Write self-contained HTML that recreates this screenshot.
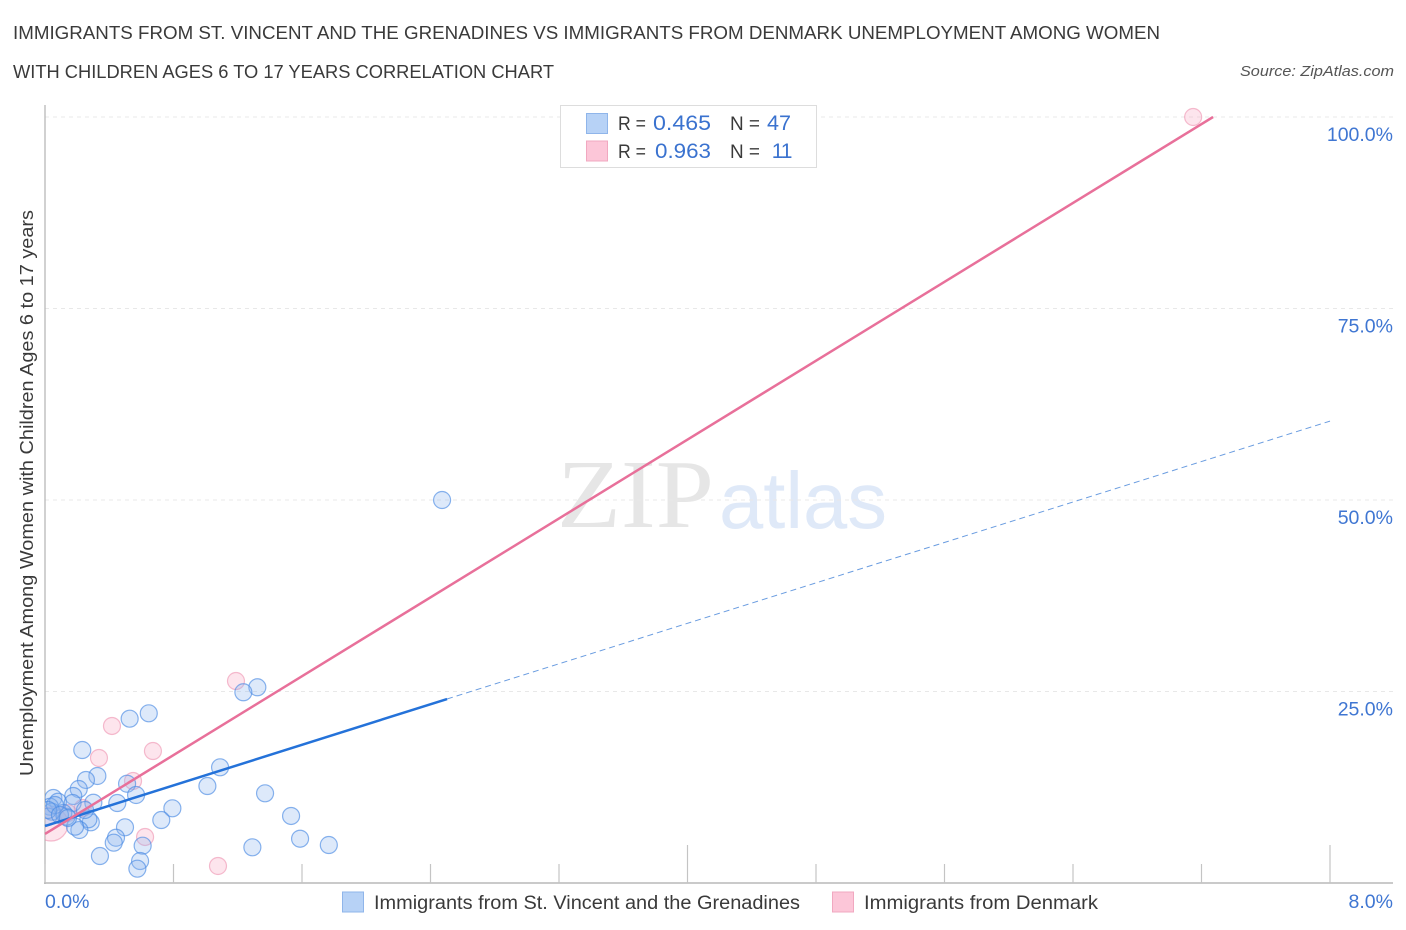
<!DOCTYPE html>
<html lang="en">
<head>
<meta charset="utf-8">
<title>Immigrants from St. Vincent and the Grenadines vs Immigrants from Denmark Correlation Chart</title>
<style>
html,body{margin:0;padding:0;background:#fff;width:1406px;height:930px;overflow:hidden}
svg{display:block}
text{font-family:"Liberation Sans",sans-serif}
</style>
</head>
<body>
<svg id="chart" xmlns="http://www.w3.org/2000/svg" width="1406" height="930" viewBox="0 0 1406 930">
  <defs><clipPath id="plot-clip"><rect x="45" y="100" width="1350" height="783"/></clipPath></defs>
  <rect x="0" y="0" width="1406" height="930" fill="#ffffff"/>
  <text x="13" y="39" font-size="18.5" fill="#3a3a3a" textLength="1147" lengthAdjust="spacingAndGlyphs">IMMIGRANTS FROM ST. VINCENT AND THE GRENADINES VS IMMIGRANTS FROM DENMARK UNEMPLOYMENT AMONG WOMEN</text>
  <text x="13" y="78" font-size="18.5" fill="#3a3a3a" textLength="541" lengthAdjust="spacingAndGlyphs">WITH CHILDREN AGES 6 TO 17 YEARS CORRELATION CHART</text>
  <text x="1394" y="76" font-size="15" font-style="italic" fill="#555555" text-anchor="end" textLength="154" lengthAdjust="spacingAndGlyphs">Source: ZipAtlas.com</text>
  <g>
    <text x="557" y="527" font-size="98" fill="#e6e6e6" textLength="157" lengthAdjust="spacingAndGlyphs" style="font-family:'Liberation Serif',serif">ZIP</text>
    <text x="719" y="528" font-size="80" fill="#dfe9f8" textLength="168" lengthAdjust="spacingAndGlyphs">atlas</text>
  </g>
  <g id="grid"></g>
  <g id="axes"></g>
  <g id="points" clip-path="url(#plot-clip)"></g>
  <g id="trends"></g>
  <text transform="translate(33,776) rotate(-90)" x="0" y="0" font-size="18" fill="#3a3a3a" textLength="566" lengthAdjust="spacingAndGlyphs">Unemployment Among Women with Children Ages 6 to 17 years</text>

  <g>
    <rect x="560.5" y="105.5" width="256" height="62" fill="#ffffff" stroke="#dddddd" stroke-width="1"/>
    <rect x="586.5" y="113.5" width="21" height="20" fill="#b7d2f6" stroke="#8fb5ea" stroke-width="1"/>
    <rect x="586.5" y="141" width="21" height="20" fill="#fcc6d8" stroke="#f1a8c0" stroke-width="1"/>
    <text x="618" y="130" font-size="19" fill="#3a3a3a" textLength="28" lengthAdjust="spacingAndGlyphs">R =</text>
    <text x="653" y="130" font-size="21" fill="#3a72cf" textLength="58" lengthAdjust="spacingAndGlyphs">0.465</text>
    <text x="730" y="130" font-size="19" fill="#3a3a3a" textLength="30" lengthAdjust="spacingAndGlyphs">N =</text>
    <text x="767" y="130" font-size="21" fill="#3a72cf" textLength="24" lengthAdjust="spacingAndGlyphs">47</text>
    <text x="618" y="158" font-size="19" fill="#3a3a3a" textLength="28" lengthAdjust="spacingAndGlyphs">R =</text>
    <text x="655" y="158" font-size="21" fill="#3a72cf" textLength="56" lengthAdjust="spacingAndGlyphs">0.963</text>
    <text x="730" y="158" font-size="19" fill="#3a3a3a" textLength="30" lengthAdjust="spacingAndGlyphs">N =</text>
    <text x="791.5" y="158" font-size="21" fill="#3a72cf" text-anchor="end" letter-spacing="-1">11</text>
  </g>

  <g>
    <rect x="342.5" y="892" width="21" height="20" fill="#b7d2f6" stroke="#8fb5ea" stroke-width="1"/>
    <text x="374" y="909" font-size="19" fill="#3a3a3a" textLength="426" lengthAdjust="spacingAndGlyphs">Immigrants from St. Vincent and the Grenadines</text>
    <rect x="832.5" y="892" width="21" height="20" fill="#fcc6d8" stroke="#f1a8c0" stroke-width="1"/>
    <text x="864" y="909" font-size="19" fill="#3a3a3a" textLength="234" lengthAdjust="spacingAndGlyphs">Immigrants from Denmark</text>
  </g>
</svg>

<script>
const blueX = [1.322,1.235,0.646,0.527,0.232,0.326,0.255,0.210,0.176,0.052,0.081,0.301,0.450,0.511,0.567,1.090,1.011,1.370,1.532,1.588,1.767,1.291,0.793,0.724,0.498,0.442,0.428,0.342,0.608,0.592,0.575,2.472,0.285,0.270,0.214,0.187,0.172,0.249,0.135,0.114,0.031,0.042,0.021,0.062,0.019,0.093,0.143];
const blueY = [25.55,24.90,22.15,21.45,17.36,13.97,13.45,12.27,11.36,11.10,10.61,10.48,10.44,12.96,11.49,15.10,12.66,11.71,8.75,5.78,4.96,4.66,9.75,8.22,7.27,5.91,5.26,3.52,4.87,2.87,1.87,50.0,7.92,8.32,6.92,7.35,10.44,9.53,8.66,9.14,9.96,9.31,8.66,10.18,9.53,8.88,8.49];
const pinkX = [7.148,1.189,0.417,0.672,0.336,0.548,0.623,1.077,0.235,0.143,0.037];
const pinkY = [100,26.37,20.50,17.23,16.32,13.32,6.01,2.22,9.79,9.14,7.70];
const pinkWeights = [1,1,1,1,1,1,1,1,1,1,4];
const blueTrendX = [0,2.503];
const blueTrendY = [7.44,24.02];
const blueProjectionX = [2.503,8];
const blueProjectionY = [24.02,60.3];
const pinkTrendX = [0,7.272];
const pinkTrendY = [6.40,100];
const xTickValues = [0,0.8,1.6,2.4,3.2,4,4.8,5.6,6.4,7.2,8];
const xTickMajor = [0,0,0,0,0,1,0,0,0,0,1];
const xEdgeValues = [0,8];
const xEdgeLabels = ['0.0%','8.0%'];
const yTickValues = [25,50,75,100];
const yTickLabels = ['25.0%','50.0%','75.0%','100.0%'];

const NS = 'http://www.w3.org/2000/svg';
const xScale = v => 45 + v * 160.625;
const yScale = v => 883 - v * 7.66;
function make(tag, attrs, parent) {
  const el = document.createElementNS(NS, tag);
  for (const k in attrs) el.setAttribute(k, attrs[k]);
  parent.appendChild(el);
  return el;
}
const gridG = document.getElementById('grid');
const axesG = document.getElementById('axes');
const pointsG = document.getElementById('points');
const trendsG = document.getElementById('trends');

yTickValues.forEach((v, i) => {
  const line = make('line', {x1:45, x2:1393, y1:yScale(v), y2:yScale(v), stroke:'#e8e8e8', 'stroke-width':1, 'stroke-dasharray':'4 4'}, gridG);
  
  
  const label = make('text', {x:1393, y:yScale(v) + 24, 'font-size':19.5, fill:'#3f76d2', 'text-anchor':'end'}, axesG);
  label.textContent = yTickLabels[i];
  
  
});

const yAxis = make('line', {x1:45, x2:45, y1:105, y2:884, stroke:'#b8b8b8', 'stroke-width':1.3}, axesG);


const xAxis = make('line', {x1:44, x2:1393, y1:883, y2:883, stroke:'#b8b8b8', 'stroke-width':1.5}, axesG);



xTickValues.forEach((v, i) => {
  const tick = make('line', {x1:xScale(v), x2:xScale(v), y1:xTickMajor[i] ? 845 : 864, y2:883, stroke:'#c4c4c4', 'stroke-width':1.2}, axesG);
  
  
});
xEdgeValues.forEach((v, i) => {
  const label = make('text', {x:i === 0 ? xScale(v) : 1393, y:908, 'font-size':19.5, fill:'#3f76d2', 'text-anchor':i === 0 ? 'start' : 'end'}, axesG);
  label.textContent = xEdgeLabels[i];
  
  
});

pinkX.forEach((v, i) => {
  const c = make('circle', {cx:xScale(v), cy:yScale(pinkY[i]), r:8.5 * Math.sqrt(pinkWeights[i]), fill:'#f8a9c2', 'fill-opacity':0.3, stroke:'#ec7ea2', 'stroke-opacity':0.5, 'stroke-width':1.2}, pointsG);
  
  
});
blueX.forEach((v, i) => {
  const c = make('circle', {cx:xScale(v), cy:yScale(blueY[i]), r:8.5, fill:'#8fb6ee', 'fill-opacity':0.3, stroke:'#4a8be3', 'stroke-opacity':0.65, 'stroke-width':1.2}, pointsG);
  
  
});

const projection = make('line', {x1:xScale(blueProjectionX[0]), y1:yScale(blueProjectionY[0]), x2:xScale(blueProjectionX[1]), y2:yScale(blueProjectionY[1]), stroke:'#6b9de0', 'stroke-width':1, 'stroke-dasharray':'6 4'}, trendsG);


const blueTrend = make('line', {x1:xScale(blueTrendX[0]), y1:yScale(blueTrendY[0]), x2:xScale(blueTrendX[1]), y2:yScale(blueTrendY[1]), stroke:'#2472d9', 'stroke-width':2.5}, trendsG);


const pinkTrend = make('line', {x1:xScale(pinkTrendX[0]), y1:yScale(pinkTrendY[0]), x2:xScale(pinkTrendX[1]), y2:yScale(pinkTrendY[1]), stroke:'#e8709a', 'stroke-width':2.5}, trendsG);


</script>
</body>
</html>
